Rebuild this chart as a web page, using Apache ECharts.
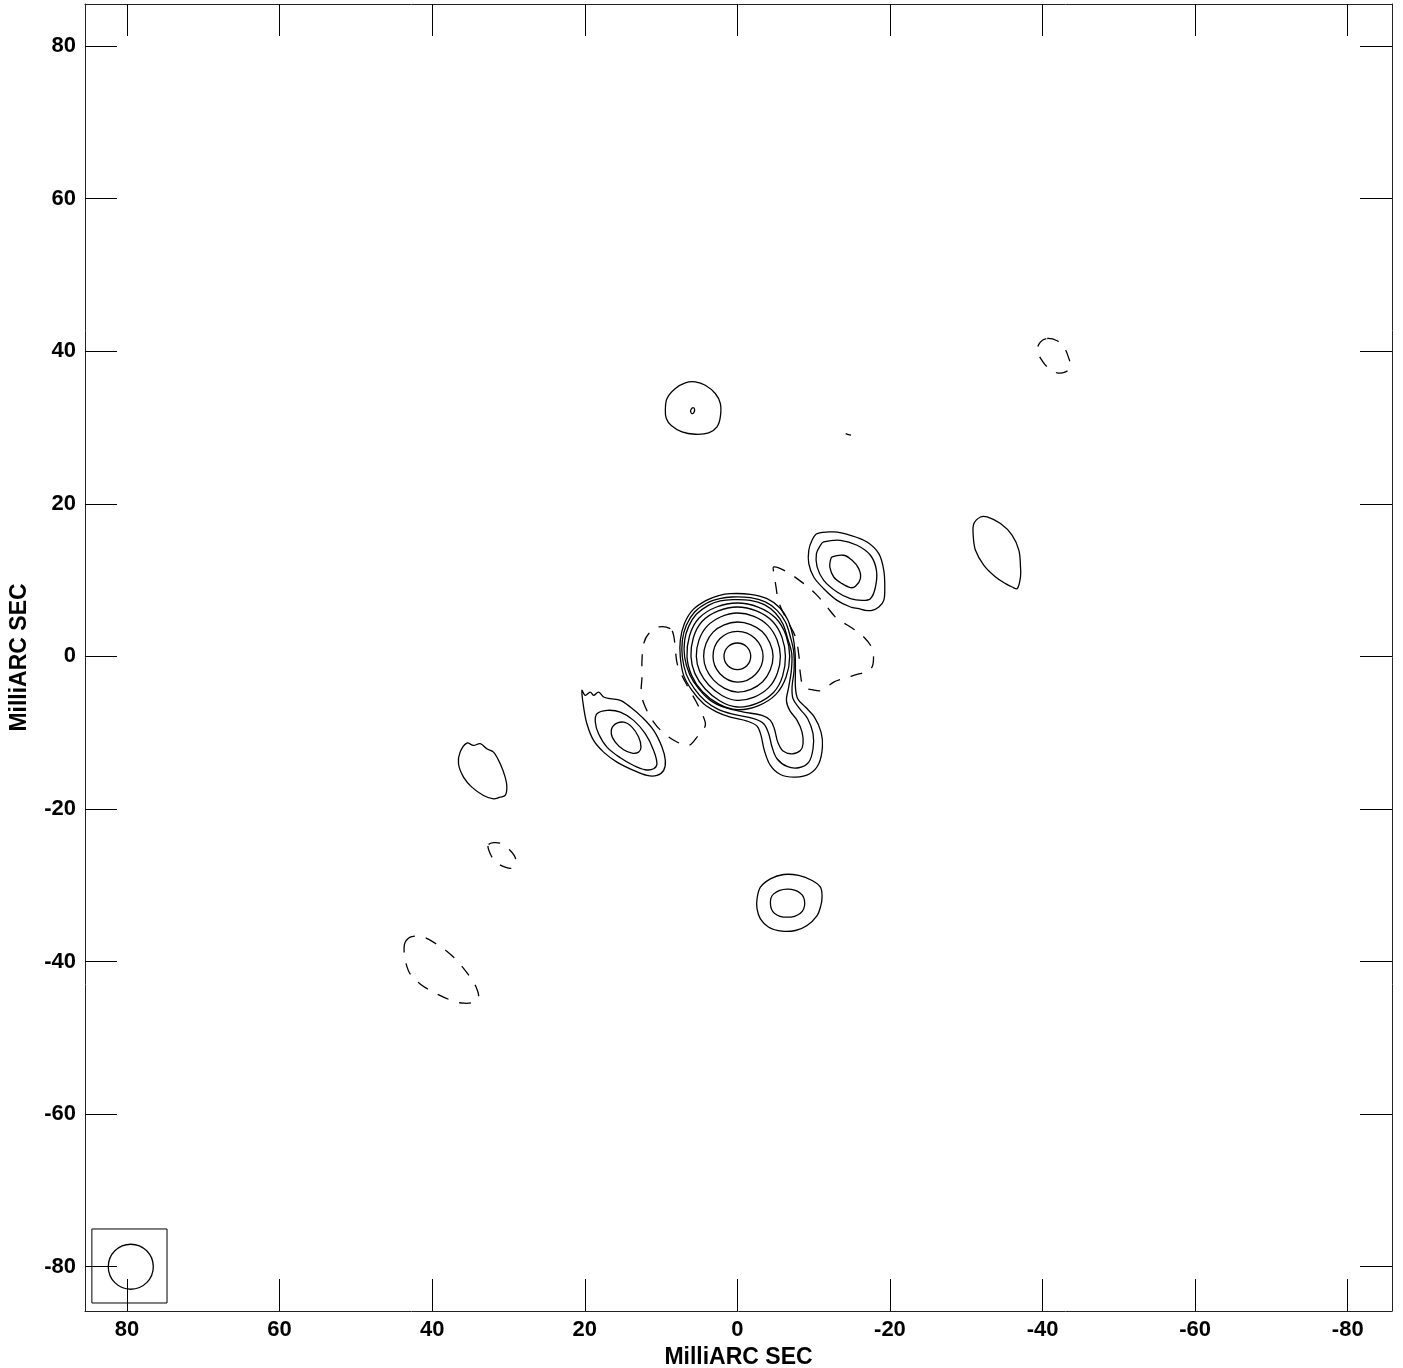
<!DOCTYPE html>
<html><head><meta charset="utf-8">
<script src="https://cdn.jsdelivr.net/npm/echarts@6/dist/echarts.min.js"></script>
<style>html,body{margin:0;padding:0;background:#fff}#c{width:1403px;height:1368px}</style>
</head><body><div id="c"></div>
<script>
// ---- axes ----
const axisTitle = 'MilliARC SEC';
const xRange = [-85.8, 85.5];
const yRange = [-85.8, 85.5];
const tickValues = [-80, -60, -40, -20, 0, 20, 40, 60, 80];

// ---- restoring beam ----
const beamCenter = [79.5, -80.0];
const beamRadius = 2.95;
const beamBox = [74.75, 84.6, -84.75, -75.05]; // xmin, xmax, ymin, ymax

// ---- central component: positive contours (outer to inner) ----
const coreL1 = [[0.92,8.22],[-1.70,8.13],[-3.89,7.56],[-5.55,6.38],[-6.60,4.81],[-7.26,2.75],[-7.56,0.57],[-7.61,-1.84],[-7.61,-4.02],[-7.91,-5.55],[-8.92,-6.64],[-10.10,-7.96],[-10.97,-9.92],[-11.15,-11.89],[-10.67,-14.08],[-9.49,-15.39],[-7.61,-15.83],[-5.64,-15.48],[-4.33,-14.30],[-3.54,-12.33],[-3.10,-10.36],[-2.58,-9.14],[-1.27,-8.48],[0.92,-7.96],[2.67,-7.30],[4.42,-6.21],[5.95,-4.46],[7.04,-2.49],[7.48,-0.09],[7.48,2.10],[6.95,4.28],[5.81,6.12],[4.07,7.34],[2.45,7.96]];
const coreL2 = [[0.70,7.78],[-1.70,7.69],[-3.67,7.13],[-5.20,6.03],[-6.30,4.50],[-6.95,2.54],[-7.39,0.57],[-7.43,-1.84],[-7.17,-4.02],[-7.30,-5.55],[-8.17,-6.86],[-9.22,-8.17],[-9.92,-10.14],[-9.92,-12.11],[-9.36,-13.86],[-8.04,-14.60],[-6.51,-14.43],[-5.20,-13.42],[-4.55,-11.89],[-4.11,-10.14],[-3.45,-8.83],[-2.14,-8.17],[0.48,-7.61],[2.45,-6.99],[4.20,-5.86],[5.64,-4.24],[6.69,-2.36],[7.21,-0.09],[7.21,2.10],[6.69,4.07],[5.60,5.81],[3.98,6.99],[2.32,7.56]];
const coreL3 = [[0.57,7.43],[-1.70,7.34],[-3.54,6.78],[-4.98,5.68],[-5.99,4.20],[-6.60,2.32],[-7.13,0.35],[-7.08,-1.84],[-6.73,-4.02],[-6.43,-5.77],[-6.86,-7.08],[-7.83,-8.39],[-8.48,-9.92],[-8.61,-11.45],[-8.26,-12.33],[-7.17,-12.77],[-5.99,-12.42],[-5.29,-11.23],[-4.85,-9.49],[-4.33,-8.39],[-3.23,-7.74],[-0.83,-7.30],[1.57,-6.73],[3.54,-5.77],[5.07,-4.24],[6.25,-2.36],[6.91,-0.09],[6.91,2.10],[6.38,3.93],[5.38,5.51],[3.80,6.69],[2.23,7.26]];
const coreL4 = [[0,6.99],[-5.02,5.02],[-6.86,0],[-5.02,-5.02],[0,-6.99],[4.60,-4.60],[6.60,0],[5.02,5.02]];
const coreL5 = [[0,6.47],[-4.60,4.60],[-6.30,0],[-4.74,-4.74],[0,-6.64],[4.24,-4.24],[6.08,0],[4.60,4.60]];
const coreL6 = [[0,5.68],[-4.03,4.03],[-5.64,0],[-4.10,-4.10],[0,-5.77],[3.75,-3.75],[5.38,0],[3.96,3.96]];
const coreL7 = [[0,4.50],[-3.25,3.25],[-4.68,0],[-3.32,-3.32],[0,-4.68],[3.11,-3.11],[4.42,0],[3.18,3.18]];
const coreL8 = [[0,3.28],[-2.33,2.33],[-3.37,0],[-2.37,-2.37],[0,-3.37],[2.28,-2.28],[3.19,0],[2.30,2.30]];
const coreL9 = [[0,1.75],[-1.24,1.24],[-1.75,0],[-1.24,-1.24],[0,-1.75],[1.24,-1.24],[1.75,0],[1.24,1.24]];

// ---- other positive components ----
const nwOuter = [[-10.45,16.09],[-12.63,16.31],[-14.82,15.87],[-17.00,14.99],[-18.54,13.46],[-19.19,11.28],[-19.32,9.09],[-19.19,7.34],[-18.54,6.47],[-17.66,6.03],[-16.79,6.03],[-15.91,6.25],[-14.82,6.47],[-13.07,7.34],[-11.32,8.87],[-10.01,10.40],[-9.36,12.15],[-9.36,13.90],[-9.79,15.21]];
const nwMiddle = [[-11.32,14.99],[-13.51,15.21],[-15.69,14.56],[-17.44,13.25],[-18.23,11.28],[-18.10,9.09],[-17.44,7.56],[-16.35,7.34],[-14.82,7.56],[-13.07,8.44],[-11.32,9.97],[-10.45,11.72],[-10.36,13.46],[-10.89,14.56]];
const nwInner = [[-12.42,13.03],[-13.95,13.25],[-15.04,12.59],[-15.91,11.50],[-16.13,10.19],[-15.48,9.18],[-14.82,9.01],[-13.73,9.53],[-12.63,10.40],[-12.11,11.72],[-12.20,12.59]];
const seOuter = [[20.37,-4.46],[19.93,-5.11],[19.28,-4.68],[18.84,-5.11],[18.19,-4.68],[17.53,-5.33],[16.66,-5.55],[15.34,-5.77],[14.03,-6.64],[12.50,-7.96],[10.97,-9.70],[9.88,-11.89],[9.44,-13.64],[9.66,-14.95],[10.54,-15.61],[11.85,-15.61],[13.60,-14.95],[15.78,-13.86],[17.53,-12.55],[18.84,-11.02],[19.72,-8.83],[20.15,-6.64]];
const seMiddle = [[18.40,-7.52],[17.09,-7.08],[15.34,-7.30],[13.60,-8.39],[12.07,-10.14],[10.97,-12.33],[10.54,-14.08],[10.97,-14.73],[12.07,-14.86],[13.60,-14.30],[15.34,-13.29],[17.09,-11.89],[18.19,-10.14],[18.62,-8.61]];
const seInner = [[16.22,-9.05],[14.91,-8.61],[13.81,-9.27],[12.94,-10.58],[12.63,-11.89],[12.94,-12.55],[13.81,-12.68],[14.91,-12.24],[16.00,-11.23],[16.52,-10.14]];
const northOuter = [[9.44,32.26],[9.22,33.79],[8.13,35.10],[6.82,35.85],[5.51,35.98],[4.20,35.54],[2.89,34.45],[2.23,33.14],[2.23,31.39],[2.67,30.08],[3.76,29.29],[5.51,29.11],[7.26,29.42],[8.70,30.30],[9.31,31.17]];
const northInner = [[6.08,32.35],[5.81,32.61],[5.60,32.35],[5.73,31.91],[5.99,31.83],[6.12,32.09]];
const southOuter = [[-2.58,-31.78],[-3.02,-30.25],[-4.33,-29.16],[-6.08,-28.59],[-8.04,-28.72],[-9.79,-29.38],[-10.89,-30.25],[-11.10,-31.56],[-10.89,-32.87],[-10.45,-33.97],[-9.14,-35.28],[-7.61,-35.93],[-5.86,-36.02],[-4.11,-35.50],[-3.02,-34.40],[-2.58,-33.09]];
const southInner = [[-4.33,-32.35],[-4.77,-31.13],[-6.51,-30.51],[-8.26,-31.04],[-8.83,-32.35],[-8.26,-33.66],[-6.51,-34.19],[-4.85,-33.66]];
const westBlob = [[-31.00,17.40],[-31.87,18.27],[-32.74,18.27],[-34.49,17.40],[-36.02,15.87],[-36.90,13.90],[-37.11,11.72],[-37.11,10.40],[-36.68,8.87],[-36.02,9.09],[-35.15,9.53],[-33.84,10.40],[-32.31,11.93],[-31.21,13.90],[-30.91,15.87]];
const eastBlob = [[35.45,-11.37],[34.58,-11.67],[33.70,-11.45],[32.83,-12.11],[31.96,-12.55],[31.08,-14.08],[30.43,-15.83],[30.21,-17.14],[30.43,-18.23],[31.08,-18.45],[31.96,-18.67],[33.27,-18.23],[34.80,-17.14],[35.89,-15.83],[36.55,-14.08],[36.33,-12.55]];
const tinySpot = [[-14.2,29.2],[-14.6,29.05],[-14.9,29.0]];

// ---- negative (dashed) contours ----
const negEast = [[8.79,3.63],[10.32,3.85],[11.63,2.97],[12.28,1.66],[12.50,-0.52],[12.50,-2.71],[12.59,-4.90],[12.07,-6.64],[10.97,-8.61],[9.66,-10.05],[7.91,-11.23],[6.38,-11.67],[5.29,-10.58],[4.20,-9.05],[4.63,-7.52],[5.38,-5.99],[6.82,-3.37],[7.83,-1.18],[8.13,0.87],[8.35,2.75]];
const negWest = [[-4.77,11.72],[-6.51,11.06],[-8.70,9.53],[-10.23,8.22],[-11.76,6.47],[-13.07,4.94],[-14.82,3.85],[-16.57,2.54],[-17.66,1.01],[-17.79,-0.96],[-17.22,-1.92],[-15.69,-2.36],[-14.38,-2.80],[-12.63,-3.37],[-11.10,-4.46],[-9.79,-4.37],[-8.70,-4.02],[-8.26,-2.27],[-8.09,-0.09],[-7.61,2.54],[-6.51,4.72],[-5.42,7.13],[-5.07,9.09],[-4.85,10.62]];
const negSE1 = [[32.61,-24.66],[31.08,-24.48],[29.77,-25.44],[29.07,-26.54],[29.42,-27.72],[30.43,-27.63],[31.61,-26.97],[32.39,-25.88]];
const negSE2 = [[43.54,-37.46],[42.67,-36.72],[41.14,-36.81],[39.61,-37.60],[38.08,-38.64],[36.55,-40.09],[35.02,-42.05],[34.23,-43.37],[33.92,-44.68],[34.58,-45.33],[35.89,-45.46],[37.42,-45.11],[39.83,-44.02],[41.57,-42.93],[42.89,-41.62],[43.41,-40.31],[43.67,-38.78]];
const negNW = [[-40.61,41.66],[-41.92,41.36],[-42.80,40.57],[-43.45,39.04],[-43.67,37.86],[-43.02,37.29],[-41.92,37.16],[-40.83,37.73],[-39.96,38.73],[-39.30,40.13],[-39.74,41.22]];

const positiveContours = [coreL1, coreL2, coreL3, coreL4, coreL5, coreL6, coreL7, coreL8, coreL9,
  nwOuter, nwMiddle, nwInner, seOuter, seMiddle, seInner, northOuter, northInner,
  southOuter, southInner, westBlob, eastBlob];
const negativeContours = [negEast, negWest, negSE1, negSE2, negNW];

// ---- chart ----
const FONT = 'Liberation Sans, Arial, sans-serif';
const chart = echarts.init(document.getElementById('c'), null, {renderer: 'canvas'});

// each contour is one custom series: its points go through the axis scales (api.coord)
function contourSeries(pts, dashed, closed) {
  return {
    type: 'custom', silent: true, animation: false, xAxisIndex: 0, yAxisIndex: 0,
    data: pts,
    renderItem: function (params, api) {
      if (params.dataIndex !== 0) return null;
      const points = pts.map(p => api.coord(p));
      return {
        type: closed ? 'polygon' : 'polyline',
        shape: {points: points, smooth: 0.35},
        style: {fill: 'none', stroke: '#000', lineWidth: 1.3, lineDash: dashed ? [12, 11] : null}
      };
    }
  };
}

const labelStyle = {fontSize: 22, fontWeight: 'bold', color: '#000', fontFamily: FONT};
const nameStyle = {fontSize: 23, fontWeight: 'bold', color: '#000', fontFamily: FONT};

function makeXAxis(pos, showLabels) {
  return {
    type: 'value', position: pos, min: xRange[0], max: xRange[1], inverse: true,
    axisLine: {show: true, onZero: false, lineStyle: {color: '#222', width: 1}},
    axisTick: {show: true, inside: true, length: 32, customValues: tickValues, lineStyle: {color: '#000', width: 1}},
    axisLabel: Object.assign({show: showLabels, customValues: tickValues, margin: 8}, labelStyle),
    splitLine: {show: false},
    name: showLabels ? axisTitle : '', nameLocation: 'middle', nameGap: 31,
    nameTextStyle: nameStyle
  };
}
function makeYAxis(pos, showLabels) {
  return {
    type: 'value', position: pos, min: yRange[0], max: yRange[1],
    axisLine: {show: true, onZero: false, lineStyle: {color: '#222', width: 1}},
    axisTick: {show: true, inside: true, length: 32, customValues: tickValues, lineStyle: {color: '#000', width: 1}},
    axisLabel: Object.assign({show: showLabels, customValues: tickValues, margin: 9}, labelStyle),
    splitLine: {show: false},
    name: showLabels ? axisTitle : '', nameLocation: 'middle', nameGap: 54, nameRotate: 90,
    nameTextStyle: nameStyle
  };
}

const series = [];
positiveContours.forEach(c => series.push(contourSeries(c, false, true)));
series.push(contourSeries(tinySpot, false, false));
negativeContours.forEach(c => series.push(contourSeries(c, true, true)));
series.push({
  type: 'custom', silent: true, animation: false, xAxisIndex: 0, yAxisIndex: 0,
  data: [[beamCenter[0], beamCenter[1]]],
  renderItem: function (params, api) {
    const c = api.coord([beamCenter[0], beamCenter[1]]);
    const s = api.size([beamRadius, beamRadius]);
    const p1 = api.coord([beamBox[0], beamBox[2]]);
    const p2 = api.coord([beamBox[1], beamBox[3]]);
    return {type: 'group', children: [
      {type: 'rect', shape: {x: Math.min(p1[0], p2[0]), y: Math.min(p1[1], p2[1]), width: Math.abs(p2[0] - p1[0]), height: Math.abs(p2[1] - p1[1])},
       style: {fill: 'none', stroke: '#000', lineWidth: 1}},
      {type: 'circle', shape: {cx: c[0], cy: c[1], r: Math.abs(s[0])},
       style: {fill: 'none', stroke: '#000', lineWidth: 1.3}}
    ]};
  }
});

chart.setOption({
  backgroundColor: '#fff',
  animation: false,
  grid: {left: 85, top: 4, width: 1307, height: 1307, containLabel: false, outerBoundsMode: 'none'},
  xAxis: [makeXAxis('bottom', true), makeXAxis('top', false)],
  yAxis: [makeYAxis('left', true), makeYAxis('right', false)],
  series: series
});
</script>
</body></html>
